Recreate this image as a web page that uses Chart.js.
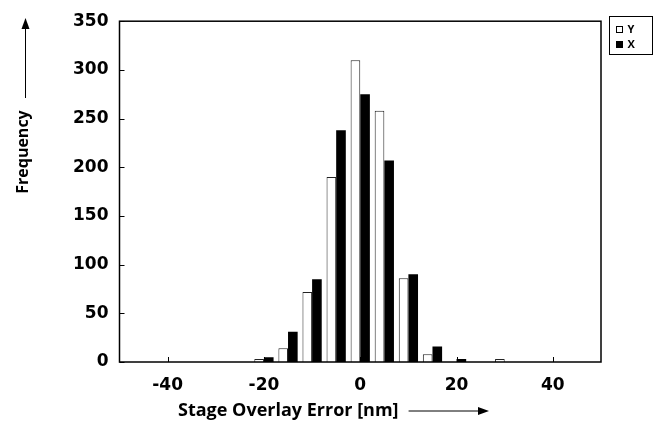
<!DOCTYPE html>
<html>
<head>
<meta charset="utf-8">
<script src="https://cdn.jsdelivr.net/npm/chart.js@4/dist/chart.umd.min.js"></script>
<style>
  html, body { margin: 0; padding: 0; background: #fff; }
  #wrap { width: 655px; height: 423px; }
</style>
</head>
<body>
<div id="wrap"><canvas id="chart" width="655" height="423"></canvas></div>
<script>
// ── data ────────────────────────────────────────────────────
const bins    = [-20, -15, -10, -5, 0, 5, 10, 15, 20, 25, 30];
const yCounts = [3, 14, 72, 190, 310, 258, 86, 8, 0, 0, 3];
const xCounts = [5, 31, 85, 238, 275, 207, 90, 16, 3, 0, 0];
const xTicks  = [-40, -20, 0, 20, 40];
const yTicks  = [0, 50, 100, 150, 200, 250, 300, 350];

const FONT = '"Open Sans", "DejaVu Sans", sans-serif';
const TICK_FONT = '"DejaVu Sans", sans-serif';

// box, inward ticks, arrows + axis titles, legend
const decor = {
  id: 'decor',
  afterDraw(chart) {
    const { ctx, chartArea: a, scales } = chart;
    ctx.save();
    ctx.strokeStyle = '#000';
    ctx.lineWidth = 1.5;
    ctx.strokeRect(a.left, a.top, a.right - a.left, a.bottom - a.top);

    ctx.lineWidth = 1;
    ctx.beginPath();
    scales.x.ticks.forEach(t => {
      const px = Math.round(scales.x.getPixelForValue(t.value)) + 0.5;
      ctx.moveTo(px, a.bottom); ctx.lineTo(px, a.bottom - 5);
    });
    scales.y.ticks.forEach(t => {
      const py = Math.round(scales.y.getPixelForValue(t.value)) + 0.5;
      ctx.moveTo(a.left, py); ctx.lineTo(a.left + 5, py);
    });
    ctx.stroke();

    // x title + arrow
    ctx.fillStyle = '#000';
    ctx.font = 'bold 18px ' + FONT;
    ctx.textBaseline = 'alphabetic';
    ctx.textAlign = 'left';
    const xt = 'Stage Overlay Error [nm]';
    ctx.fillText(xt, 178, 416);
    const xe = 178 + ctx.measureText(xt).width;
    ctx.beginPath();
    ctx.moveTo(xe + 10, 411); ctx.lineTo(480, 411); ctx.stroke();
    ctx.beginPath();
    ctx.moveTo(489, 411); ctx.lineTo(478, 407); ctx.lineTo(478, 415); ctx.closePath(); ctx.fill();

    // y title + arrow
    ctx.font = 'bold 16px ' + FONT;
    ctx.save();
    ctx.translate(28, 152);
    ctx.rotate(-Math.PI / 2);
    ctx.textAlign = 'center';
    ctx.fillText('Frequency', 0, 0);
    ctx.restore();
    ctx.beginPath();
    ctx.moveTo(25.5, 98); ctx.lineTo(25.5, 28); ctx.stroke();
    ctx.beginPath();
    ctx.moveTo(25.5, 18); ctx.lineTo(21.5, 29); ctx.lineTo(29.5, 29); ctx.closePath(); ctx.fill();

    // legend
    ctx.lineWidth = 1;
    ctx.strokeRect(609.5, 16.5, 43, 38);
    ctx.font = 'bold 11px ' + FONT;
    ctx.textBaseline = 'middle';
    ctx.textAlign = 'left';
    chart.data.datasets.forEach((ds, i) => {
      const yy = 26.5 + i * 15;
      ctx.fillStyle = ds.backgroundColor;
      ctx.fillRect(616.5, yy, 6, 6);
      ctx.strokeStyle = '#000';
      ctx.strokeRect(616.5, yy, 6, 6);
      ctx.fillStyle = '#000';
      ctx.fillText(ds.label, 627.5, yy + 3.5);
    });
    ctx.restore();
  }
};

new Chart(document.getElementById('chart'), {
  type: 'bar',
  data: {
    datasets: [
      {
        label: 'Y',
        data: bins.map((b, i) => ({ x: b, y: yCounts[i] })),
        backgroundColor: '#ffffff',
        borderColor: '#222',
        borderWidth: 1,
        borderSkipped: 'bottom',
      },
      {
        label: 'X',
        data: bins.map((b, i) => ({ x: b, y: xCounts[i] })),
        backgroundColor: '#000000',
        borderColor: '#000',
        borderWidth: 0,
      },
    ],
  },
  options: {
    responsive: false,
    animation: false,
    categoryPercentage: 0.8,
    barPercentage: 1.0,
    layout: { padding: { top: 18, right: 54, left: 0, bottom: 0 } },
    plugins: { legend: { display: false }, tooltip: { enabled: false } },
    scales: {
      x: {
        type: 'linear',
        min: -50, max: 50,
        offset: false,
        grid: { display: false, drawTicks: false },
        border: { display: false },
        afterBuildTicks: s => { s.ticks = xTicks.map(v => ({ value: v })); },
        afterFit: s => { s.height = 61; },
        ticks: { color: '#000', padding: 13, font: { family: TICK_FONT, size: 17, weight: 'bold' } },
      },
      y: {
        min: 0, max: 350,
        grid: { display: false, drawTicks: false },
        border: { display: false },
        afterBuildTicks: s => { s.ticks = yTicks.map(v => ({ value: v })); },
        afterFit: s => { s.width = 119.5; },
        ticks: { color: '#000', padding: 11, font: { family: TICK_FONT, size: 17, weight: 'bold' } },
      },
    },
  },
  plugins: [decor],
});
</script>
</body>
</html>
